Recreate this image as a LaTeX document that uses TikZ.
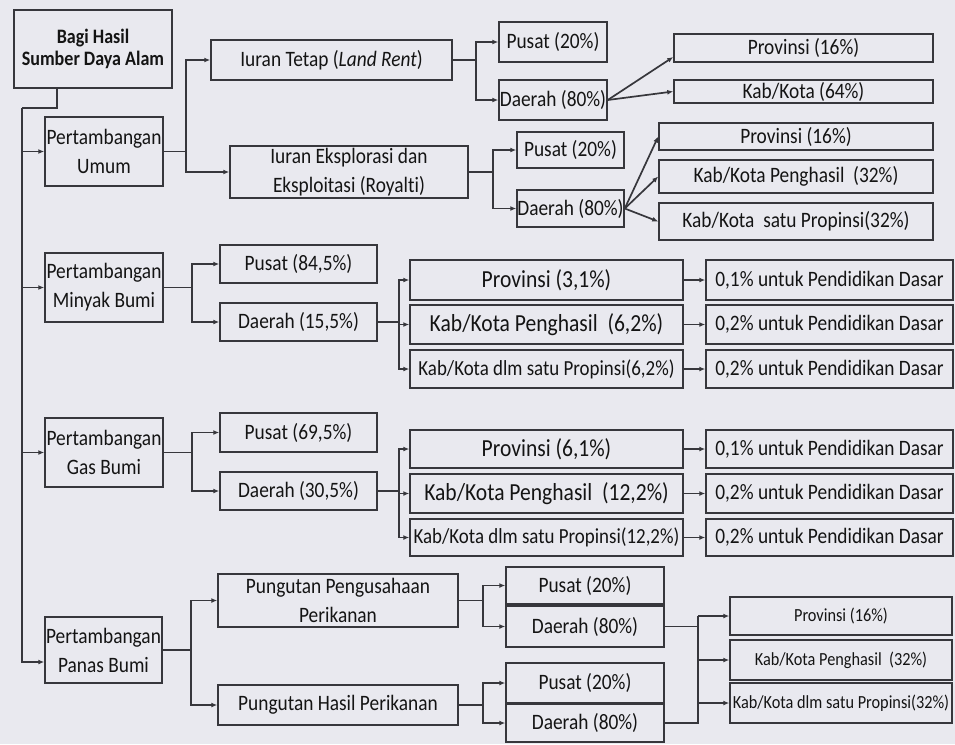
\documentclass[tikz,border=0pt]{standalone}
\usepackage{fontspec}
\setmainfont{Carlito}[FakeStretch=0.88,Ligatures=NoCommon]
\usetikzlibrary{arrows.meta,calc}
\definecolor{kertas}{RGB}{233,233,239}
\definecolor{tinta}{RGB}{55,55,60}

\begin{document}
\begin{tikzpicture}[x=1pt,y=-1pt,
	kotak/.style={draw=tinta,line width=1.5pt,inner sep=0pt,align=center,text=black!92,
		font=\fontsize{22}{29}\selectfont},
	besar/.style={font=\fontsize{24.5}{29}\selectfont},
	sedang/.style={font=\fontsize{21.5}{29}\selectfont},
	kecil/.style={font=\fontsize{18.5}{22}\selectfont},
	garis/.style={draw=tinta,line width=1.7pt},
	panah/.style={garis,-{Latex[length=6pt,width=5pt]}}]
		\fill[kertas](0,0) rectangle (955,744);
		
		% akar dan cabang utama
		\node[kotak,minimum width=158,minimum height=78,font=\bfseries\fontsize{20.5}{22}\selectfont](root) at (93,49){Bagi Hasil\\Sumber Daya Alam};
		\node[kotak,minimum width=118,minimum height=69](umum) at (104,151.5){Pertambangan\\Umum};
		\node[kotak,minimum width=118,minimum height=69](minyak) at (104,287.5){Pertambangan\\Minyak Bumi};
		\node[kotak,minimum width=118,minimum height=69](gas) at (104,452.5){Pertambangan\\Gas Bumi};
		\node[kotak,minimum width=117,minimum height=66](panas) at (103.5,650){Pertambangan\\Panas Bumi};
		
		% pertambangan umum
		\node[kotak,minimum width=241,minimum height=40](tetap) at (331.5,60){Iuran Tetap (\textit{Land Rent})};
		\node[kotak,minimum width=238,minimum height=52](eksplo) at (349,172){Iuran Eksplorasi dan\\Eksploitasi (Royalti)};
		\node[kotak,minimum width=108,minimum height=40](pusatA) at (553,42){Pusat (20\%)};
		\node[kotak,minimum width=108,minimum height=40](daerahA) at (553,100){Daerah (80\%)};
		\node[kotak,minimum width=259,minimum height=28](provA) at (803.5,48){Provinsi (16\%)};
		\node[kotak,minimum width=259,minimum height=23](kabA) at (803.5,91.5){Kab/Kota (64\%)};
		\node[kotak,minimum width=107,minimum height=36](pusatB) at (570.5,150){Pusat (20\%)};
		\node[kotak,minimum width=107,minimum height=37](daerahB) at (570.5,208.5){Daerah (80\%)};
		\node[kotak,minimum width=274,minimum height=27](provB) at (796,136.5){Provinsi (16\%)};
		\node[kotak,minimum width=274,minimum height=33](kabB) at (796,176.5){Kab/Kota Penghasil\ \ (32\%)};
		\node[kotak,minimum width=274,minimum height=37](kabsatuB) at (796,221.5){Kab/Kota\ \ satu Propinsi(32\%)};
		
		% minyak bumi
		\node[kotak,minimum width=157,minimum height=38](pusatC) at (298.5,264){Pusat (84,5\%)};
		\node[kotak,minimum width=157,minimum height=38](daerahC) at (298.5,322){Daerah (15,5\%)};
		\node[kotak,besar,minimum width=273,minimum height=40](provC) at (546.5,280){Provinsi (3,1\%)};
		\node[kotak,besar,minimum width=273,minimum height=39](kabC) at (546.5,324.5){Kab/Kota Penghasil\ \ (6,2\%)};
		\node[kotak,sedang,minimum width=273,minimum height=38](kabsatuC) at (546.5,369){Kab/Kota dlm satu Propinsi(6,2\%)};
		\node[kotak,minimum width=247,minimum height=40](pendC1) at (829.5,280){0,1\% untuk Pendidikan Dasar};
		\node[kotak,minimum width=247,minimum height=39](pendC2) at (829.5,324.5){0,2\% untuk Pendidikan Dasar};
		\node[kotak,minimum width=247,minimum height=38](pendC3) at (829.5,369){0,2\% untuk Pendidikan Dasar};
		
		% gas bumi
		\node[kotak,minimum width=157,minimum height=39](pusatD) at (298.5,432.5){Pusat (69,5\%)};
		\node[kotak,minimum width=157,minimum height=38](daerahD) at (298.5,491){Daerah (30,5\%)};
		\node[kotak,besar,minimum width=273,minimum height=38](provD) at (546.5,449){Provinsi (6,1\%)};
		\node[kotak,besar,minimum width=273,minimum height=39](kabD) at (546.5,493.5){Kab/Kota Penghasil\ \ (12,2\%)};
		\node[kotak,sedang,minimum width=273,minimum height=37](kabsatuD) at (546.5,537.5){Kab/Kota dlm satu Propinsi(12,2\%)};
		\node[kotak,minimum width=247,minimum height=38](pendD1) at (829.5,449){0,1\% untuk Pendidikan Dasar};
		\node[kotak,minimum width=247,minimum height=39](pendD2) at (829.5,493.5){0,2\% untuk Pendidikan Dasar};
		\node[kotak,minimum width=247,minimum height=37](pendD3) at (829.5,537.5){0,2\% untuk Pendidikan Dasar};
		
		% panas bumi
		\node[kotak,minimum width=240,minimum height=53](pungutA) at (338,600.5){Pungutan Pengusahaan\\Perikanan};
		\node[kotak,minimum width=240,minimum height=40](pungutB) at (338,705){Pungutan Hasil Perikanan};
		\node[kotak,minimum width=158,minimum height=37](pusatE) at (585,585.5){Pusat (20\%)};
		\node[kotak,minimum width=158,minimum height=41](daerahE) at (585,626.5){Daerah (80\%)};
		\node[kotak,minimum width=158,minimum height=40](pusatF) at (585,683){Pusat (20\%)};
		\node[kotak,minimum width=158,minimum height=38](daerahF) at (585,723){Daerah (80\%)};
		\node[kotak,kecil,minimum width=222,minimum height=38](provE) at (841,616){Provinsi (16\%)};
		\node[kotak,kecil,minimum width=222,minimum height=40](kabE) at (841,660){Kab/Kota Penghasil\ \ (32\%)};
		\node[kotak,kecil,minimum width=222,minimum height=40](kabsatuE) at (841,703){Kab/Kota dlm satu Propinsi(32\%)};
		
		% batang kiri
		\coordinate(batang) at (22,108);
		\draw[garis]([xshift=-36pt]root.south) |- (batang);
		\draw[panah](batang) |- ([yshift=-12pt]panas.west);
		\foreach \b in {umum,minyak,gas}
			\draw[panah](batang |- \b.west) -- (\b.west);
		
		\draw[panah](umum.east) -- ++(22,0) |- (tetap.west);
		\draw[panah](umum.east) -- ++(22,0) |- (eksplo.west);
		\draw[panah](tetap.east) -- ++(23,0) |- (pusatA.west);
		\draw[panah](tetap.east) -- ++(23,0) |- (daerahA.west);
		\draw[panah](daerahA.east) -- ([yshift=-9pt]provA.west);
		\draw[panah](daerahA.east) -- (kabA.west);
		\draw[panah](eksplo.east) -- ++(24,0) |- (pusatB.west);
		\draw[panah](eksplo.east) -- ++(24,0) |- (daerahB.west);
		\foreach \t in {provB,kabB,kabsatuB}
			\draw[panah](daerahB.east) -- (\t.west);
		
		\foreach \t in {pusatC,daerahC}
			\draw[panah](minyak.east) -- ++(28,0) |- (\t.west);
		\foreach \t in {provC,kabC,kabsatuC}
			\draw[panah](daerahC.east) -- ++(21,0) |- (\t.west);
		\foreach \t in {pusatD,daerahD}
			\draw[panah](gas.east) -- ++(28,0) |- (\t.west);
		\foreach \t in {provD,kabD,kabsatuD}
			\draw[panah](daerahD.east) -- ++(21,0) |- (\t.west);
		\foreach \a/\b in {provC/pendC1,kabC/pendC2,kabsatuC/pendC3,provD/pendD1,kabD/pendD2,kabsatuD/pendD3}
			\draw[panah](\a.east) -- (\b.west);
		
		\foreach \t in {pungutA,pungutB}
			\draw[panah](panas.east) -- ++(28,0) |- (\t.west);
		\foreach \t in {pusatE,daerahE}
			\draw[panah](pungutA.east) -- ++(24,0) |- (\t.west);
		\foreach \t in {pusatF,daerahF}
			\draw[panah](pungutB.east) -- ++(24,0) |- (\t.west);
		\draw[garis](daerahE.east) -- ++(33,0) coordinate(simpul);
		\draw[garis](daerahF.east) -| (simpul |- provE.west);
		\foreach \t in {provE,kabE,kabsatuE}
			\draw[panah](simpul |- \t.west) -- (\t.west);
	\end{tikzpicture}
\end{document}
